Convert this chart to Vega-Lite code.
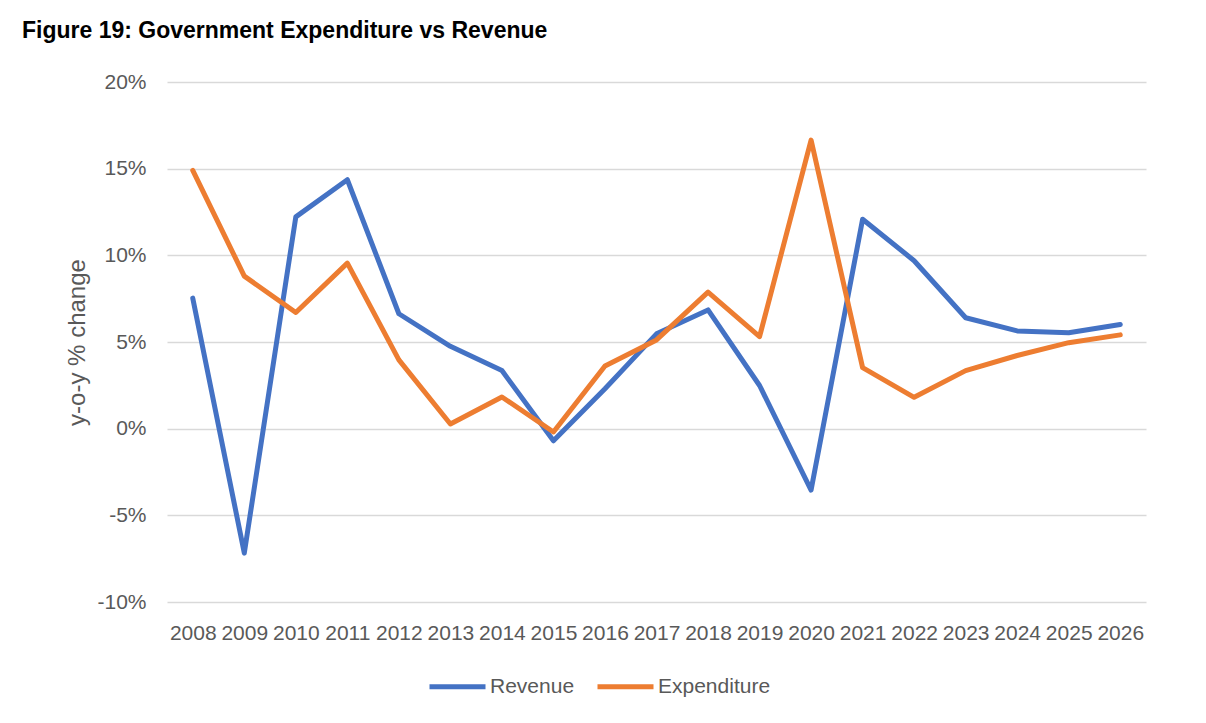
{
  "$schema": "https://vega.github.io/schema/vega-lite/v6.json",
  "autosize": "none",
  "width": 979,
  "height": 520,
  "padding": {"left": 167, "top": 82, "right": 60, "bottom": 121},
  "background": "white",
  "title": {
    "text": "Figure 19: Government Expenditure vs Revenue",
    "anchor": "start",
    "frame": "group",
    "dx": -145,
    "offset": 10,
    "baseline": "alphabetic",
    "font": "Liberation Sans",
    "fontSize": 23,
    "fontWeight": "bold",
    "color": "#000000"
  },
  "data": {
    "values": [
      {"year": "2008", "series": "Revenue", "value": 7.53},
      {"year": "2009", "series": "Revenue", "value": -7.18},
      {"year": "2010", "series": "Revenue", "value": 12.22},
      {"year": "2011", "series": "Revenue", "value": 14.36},
      {"year": "2012", "series": "Revenue", "value": 6.63},
      {"year": "2013", "series": "Revenue", "value": 4.75},
      {"year": "2014", "series": "Revenue", "value": 3.35},
      {"year": "2015", "series": "Revenue", "value": -0.7},
      {"year": "2016", "series": "Revenue", "value": 2.3},
      {"year": "2017", "series": "Revenue", "value": 5.47},
      {"year": "2018", "series": "Revenue", "value": 6.85},
      {"year": "2019", "series": "Revenue", "value": 2.49},
      {"year": "2020", "series": "Revenue", "value": -3.54},
      {"year": "2021", "series": "Revenue", "value": 12.08},
      {"year": "2022", "series": "Revenue", "value": 9.69},
      {"year": "2023", "series": "Revenue", "value": 6.4},
      {"year": "2024", "series": "Revenue", "value": 5.64},
      {"year": "2025", "series": "Revenue", "value": 5.53},
      {"year": "2026", "series": "Revenue", "value": 6.01},
      {"year": "2008", "series": "Expenditure", "value": 14.9},
      {"year": "2009", "series": "Expenditure", "value": 8.8},
      {"year": "2010", "series": "Expenditure", "value": 6.7},
      {"year": "2011", "series": "Expenditure", "value": 9.55},
      {"year": "2012", "series": "Expenditure", "value": 3.97},
      {"year": "2013", "series": "Expenditure", "value": 0.27},
      {"year": "2014", "series": "Expenditure", "value": 1.83},
      {"year": "2015", "series": "Expenditure", "value": -0.19},
      {"year": "2016", "series": "Expenditure", "value": 3.62},
      {"year": "2017", "series": "Expenditure", "value": 5.12},
      {"year": "2018", "series": "Expenditure", "value": 7.88},
      {"year": "2019", "series": "Expenditure", "value": 5.31},
      {"year": "2020", "series": "Expenditure", "value": 16.65},
      {"year": "2021", "series": "Expenditure", "value": 3.52},
      {"year": "2022", "series": "Expenditure", "value": 1.81},
      {"year": "2023", "series": "Expenditure", "value": 3.35},
      {"year": "2024", "series": "Expenditure", "value": 4.22},
      {"year": "2025", "series": "Expenditure", "value": 4.96},
      {"year": "2026", "series": "Expenditure", "value": 5.41}
    ]
  },
  "mark": {"type": "line", "strokeWidth": 5, "strokeCap": "round", "strokeJoin": "round"},
  "encoding": {
    "x": {
      "field": "year",
      "type": "ordinal",
      "scale": {"type": "point", "padding": 0.5},
      "axis": {
        "title": null,
        "labelAngle": 0,
        "domain": false,
        "ticks": false,
        "grid": false,
        "labelPadding": 20,
        "labelFont": "Liberation Sans",
        "labelFontSize": 21,
        "labelColor": "#595959"
      }
    },
    "y": {
      "field": "value",
      "type": "quantitative",
      "scale": {"domain": [-10, 20], "nice": false, "zero": false},
      "axis": {
        "title": "y-o-y % change",
        "values": [-10, -5, 0, 5, 10, 15, 20],
        "labelExpr": "datum.value + '%'",
        "domain": false,
        "ticks": false,
        "grid": true,
        "gridColor": "#D9D9D9",
        "gridWidth": 1.3,
        "labelPadding": 21,
        "labelFont": "Liberation Sans",
        "labelFontSize": 21,
        "labelColor": "#595959",
        "titleFont": "Liberation Sans",
        "titleFontSize": 24,
        "titleFontWeight": "normal",
        "titleColor": "#595959",
        "titleX": -90,
        "titleY": 260,
        "titleAngle": -90,
        "titleBaseline": "middle",
        "titleAlign": "center"
      }
    },
    "color": {
      "field": "series",
      "type": "nominal",
      "scale": {"domain": ["Revenue", "Expenditure"], "range": ["#4472C4", "#ED7D31"]},
      "legend": {
        "title": null,
        "orient": "none",
        "direction": "horizontal",
        "legendX": 260,
        "legendY": 574,
        "padding": 0,
        "symbolType": "stroke",
        "symbolSize": 3136,
        "symbolStrokeWidth": 5,
        "labelOffset": 2,
        "columnPadding": 12,
        "labelFont": "Liberation Sans",
        "labelFontSize": 21,
        "labelColor": "#595959"
      }
    }
  },
  "config": {"view": {"stroke": null}}
}
